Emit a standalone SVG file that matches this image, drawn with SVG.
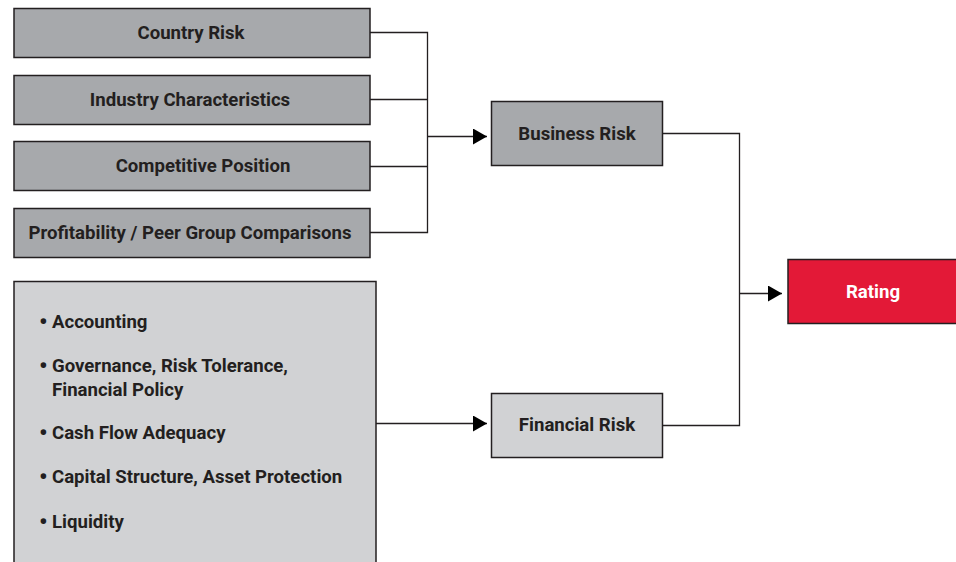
<svg xmlns="http://www.w3.org/2000/svg" width="956" height="562" viewBox="0 0 956 562">
<defs>
<style>
.box{stroke:#231f20;stroke-width:1.5}
.dark{fill:#a7a9ac}
.light{fill:#d1d2d4}
.red{fill:#e31937}
.t{font-family:Roboto,"Liberation Sans",sans-serif;font-weight:700;font-size:18.6px;fill:#231f20}
.b{font-size:24px}
.c{text-anchor:middle}
.w{fill:#ffffff}
.ln{fill:none;stroke:#231f20;stroke-width:1.3}
</style>
<marker id="ah" markerWidth="14" markerHeight="16" refX="14" refY="8" orient="auto" markerUnits="userSpaceOnUse">
<path d="M0,0 L14,8 L0,16 Z" fill="#000"/>
</marker>
</defs>
<rect width="956" height="562" fill="#ffffff"/>
<g id="connectors">
<path class="ln" d="M370,32.5 H427.5 V232.5 H370 M370,99.5 H427.5 M370,166.5 H427.5"/>
<path class="ln" d="M427.5,136.5 H487" marker-end="url(#ah)"/>
<path class="ln" d="M376,423.5 H487" marker-end="url(#ah)"/>
<path class="ln" d="M662,133.5 H739.5 V425.5 H662"/>
<path class="ln" d="M739.5,293.5 H782" marker-end="url(#ah)"/>
</g>
<g id="country-risk">
<rect class="box dark" x="14" y="8.5" width="356" height="49"/>
<text class="t c" x="191" y="38.5">Country Risk</text>
</g>
<g id="industry-characteristics">
<rect class="box dark" x="14" y="75.5" width="356" height="49"/>
<text class="t c" x="190" y="105.5">Industry Characteristics</text>
</g>
<g id="competitive-position">
<rect class="box dark" x="14" y="141.5" width="356" height="49"/>
<text class="t c" x="203" y="172">Competitive Position</text>
</g>
<g id="profitability">
<rect class="box dark" x="14" y="208.5" width="356" height="49"/>
<text class="t c" x="190" y="239">Profitability / Peer Group Comparisons</text>
</g>
<g id="financial-factors">
<rect class="box light" x="14" y="281.5" width="362" height="290"/>
<text class="t" x="39" y="330"><tspan class="b">•</tspan><tspan x="52" y="328">Accounting</tspan></text>
<text class="t" x="39" y="374"><tspan class="b">•</tspan><tspan x="52" y="372">Governance, Risk Tolerance,</tspan></text>
<text class="t" x="52" y="396">Financial Policy</text>
<text class="t" x="39" y="441"><tspan class="b">•</tspan><tspan x="52" y="439">Cash Flow Adequacy</tspan></text>
<text class="t" x="39" y="485"><tspan class="b">•</tspan><tspan x="52" y="483">Capital Structure, Asset Protection</tspan></text>
<text class="t" x="39" y="530"><tspan class="b">•</tspan><tspan x="52" y="528">Liquidity</tspan></text>
</g>
<g id="business-risk">
<rect class="box dark" x="491.5" y="101.5" width="171" height="64"/>
<text class="t c" x="577" y="139.5">Business Risk</text>
</g>
<g id="financial-risk">
<rect class="box light" x="491.5" y="393.5" width="171" height="64"/>
<text class="t c" x="577" y="430.5">Financial Risk</text>
</g>
<g id="rating">
<rect class="box red" x="788" y="259.5" width="172" height="64"/>
<text class="t c w" x="873" y="297.5">Rating</text>
</g>
</svg>
